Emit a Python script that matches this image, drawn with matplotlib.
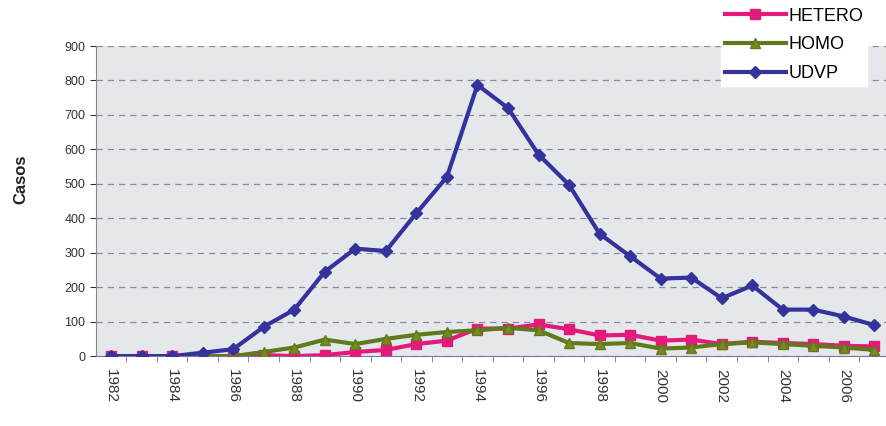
import numpy as np
import matplotlib.pyplot as plt

plt.rcParams['font.family'] = ['Liberation Sans', 'DejaVu Sans']

# Data
years = list(range(1982, 2008))
hetero = [0, 0, 0, 0, 0, 3, 0, 3, 12, 18, 35, 45, 80, 80, 92, 78, 60, 62,
          45, 48, 35, 42, 38, 35, 30, 28]
homo = [0, 0, 0, 0, 0, 12, 25, 48, 35, 50, 62, 70, 75, 82, 75, 38, 35, 38,
        22, 25, 35, 40, 35, 30, 25, 18]
udvp = [0, 0, 0, 10, 20, 85, 135, 245, 312, 305, 415, 520, 787, 720, 585,
        497, 355, 290, 225, 228, 168, 205, 135, 135, 115, 90]
tick_labels = [str(y) if (y % 2 == 0) else '' for y in years]

fig = plt.figure(figsize=(8.87, 4.26), dpi=100)
ax = fig.add_axes([0.108, 0.164, 0.895, 0.728])
ax.set_facecolor('#e5e8eb')

x = np.arange(len(years))
ax.plot(x, hetero, color='#e3197b', lw=3, marker='s', ms=7, label='HETERO', zorder=3)
ax.plot(x, homo, color='#5f7a1c', lw=3, marker='^', ms=7,
        mfc='#7a8a1e', label='HOMO', zorder=4)
ax.plot(x, udvp, color='#33339b', lw=3, marker='D', ms=6, label='UDVP', zorder=5)

ax.set_xlim(-0.5, len(years) - 0.5)
ax.set_ylim(0, 900)
ax.set_yticks(range(0, 901, 100))
ax.set_xticks(x)
ax.set_xticklabels(tick_labels, rotation=-90, fontsize=11, color='#333333')
ax.set_xticks(x[:-1] + 0.5, minor=True)
ax.tick_params(axis='x', which='major', length=0, pad=9)
ax.tick_params(axis='x', which='minor', length=4, color='#777777')
ax.tick_params(axis='y', labelsize=9, colors='#333333', length=4)

ax.grid(axis='y', ls=(0, (5, 4)), color='#8a8a9a', lw=0.9)
for s in ['top', 'right']:
    ax.spines[s].set_visible(False)
ax.spines['left'].set_color('#888888')
ax.spines['bottom'].set_color('#7777aa')

ax.set_ylabel('Casos', fontsize=12, fontweight='bold', color='#222222')
ax.yaxis.set_label_coords(-0.085, 0.57)

fig.legend(loc='upper right', bbox_to_anchor=(0.988, 1.012), frameon=True,
           fancybox=False, edgecolor='white', facecolor='white', framealpha=1,
           fontsize=13, handlelength=3.4, handletextpad=0.15, labelspacing=0.65,
           borderpad=0.2)

fig.savefig('out.png', dpi=100)
